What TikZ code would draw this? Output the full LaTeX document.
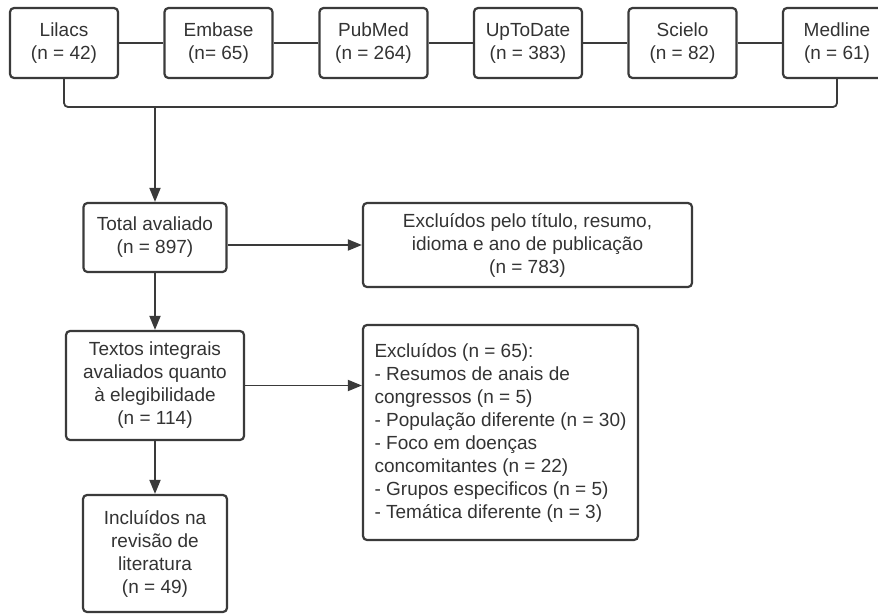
\documentclass[tikz,border=0pt]{standalone}
\usepackage{fontspec}
\setmainfont{Liberation Sans}
\usetikzlibrary{arrows.meta}
\definecolor{linegray}{HTML}{3A3A3A}
\definecolor{txtgray}{HTML}{333333}

\def\lwidth{2.2}
\def\cwidth{1.8}
\def\srcw{108}
\def\srch{70}
\def\srcy{43}

\begin{document}
\begin{tikzpicture}[x=1pt,y=-1pt,font=\fontsize{19}{23}\selectfont,
	mybox/.style={rectangle,draw=linegray,line width=\lwidth pt,rounded corners=4pt,text=txtgray,inner sep=0pt,align=center},
	srcbox/.style={mybox,minimum width=\srcw pt,minimum height=\srch pt},
	conn/.style={draw=linegray,line width=\cwidth pt},
	arr/.style={conn,-{Triangle[length=14pt,width=11pt]}}]
	\useasboundingbox (0,0) rectangle (878,613);
	\clip (0,0) rectangle (878,613);
	\node[srcbox] (lilacs) at (64,\srcy) {Lilacs\\(n = 42)};
	\node[srcbox] (embase) at (218.5,\srcy) {Embase\\(n= 65)};
	\node[srcbox] (pubmed) at (373.5,\srcy) {PubMed\\(n = 264)};
	\node[srcbox] (uptodate) at (528,\srcy) {UpToDate\\(n = 383)};
	\node[srcbox] (scielo) at (682.5,\srcy) {Scielo\\(n = 82)};
	\node[srcbox] (medline) at (837,\srcy) {Medline\\(n = 61)};
	\draw[conn] (lilacs) -- (embase);
	\draw[conn] (embase) -- (pubmed);
	\draw[conn] (pubmed) -- (uptodate);
	\draw[conn] (uptodate) -- (scielo);
	\draw[conn] (scielo) -- (medline);
	\coordinate (bus) at (155,107);
	\draw[conn,rounded corners=4pt] (lilacs.south) |- (bus) -| (medline.south);
	\node[mybox,minimum width=143pt,minimum height=69pt] (total) at (155,237.5) {Total avaliado\\(n = 897)};
	\draw[arr] (bus) -- (total.north);
	\node[mybox,minimum width=329pt,minimum height=84pt] (excl1) at (527.5,245) {Excluídos pelo título, resumo,\\idioma e ano de publicação\\(n = 783)};
	\draw[arr] (total.east |- excl1.west) -- (excl1.west);
	\node[mybox,minimum width=178pt,minimum height=109pt] (textos) at (155,385.5) {Textos integrais\\avaliados quanto\\à elegibilidade\\(n = 114)};
	\draw[arr] (total.south) -- (textos.north);
	\node[mybox,align=left,minimum width=275pt,minimum height=215pt] (excl2) at (500.5,432.5) {Excluídos (n = 65):\\- Resumos de anais de\\congressos (n = 5)\\- População diferente (n = 30)\\- Foco em doenças\\concomitantes (n = 22)\\- Grupos especificos (n = 5)\\- Temática diferente (n = 3)};
	\draw[arr] (textos.east) -- (excl2.west |- textos.east);
	\node[mybox,minimum width=144pt,minimum height=117pt] (incl) at (155,553.5) {Incluídos na\\revisão de\\literatura\\(n = 49)};
	\draw[arr] (textos.south) -- (incl.north);
\end{tikzpicture}
\end{document}
